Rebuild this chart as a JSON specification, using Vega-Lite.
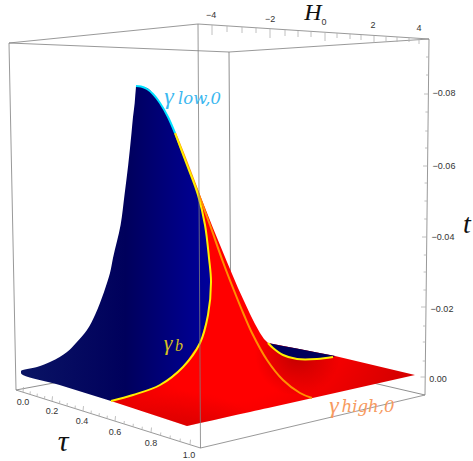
{"$schema":"https://vega.github.io/schema/vega-lite/v6.json","width":473,"height":461,"padding":0,"autosize":{"type":"none"},"background":"white","config":{"view":{"stroke":null},"axis":{"disable":true}},
"datasets":{
"boxBack":[{"x":229,"y":52,"x2":231,"y2":350},{"x":16,"y":390,"x2":231,"y2":350},{"x":425,"y":395,"x2":231,"y2":350}],
"boxFront":[{"x":9,"y":43,"x2":198,"y2":24},{"x":198,"y":24,"x2":429,"y2":39},{"x":9,"y":43,"x2":229,"y2":52},{"x":229,"y":52,"x2":429,"y2":39},{"x":9,"y":43,"x2":16,"y2":390},{"x":429,"y":39,"x2":425,"y2":395},{"x":16,"y":390,"x2":200.5,"y2":448},{"x":200.5,"y":448,"x2":425,"y2":395},{"x":198,"y":24,"x2":200.5,"y2":448}],
"ticks":[
{"x":212,"y":25,"x2":212,"y2":35},{"x":227,"y":26,"x2":227,"y2":32},{"x":242,"y":27,"x2":242,"y2":33},{"x":256,"y":28,"x2":256,"y2":33},{"x":270,"y":29,"x2":270,"y2":38},{"x":285,"y":30,"x2":285,"y2":36},{"x":298,"y":31,"x2":298,"y2":37},{"x":311,"y":32,"x2":311,"y2":37},{"x":325,"y":33,"x2":325,"y2":41},{"x":337,"y":33,"x2":337,"y2":38},{"x":350,"y":34,"x2":350,"y2":39},{"x":361,"y":35,"x2":361,"y2":40},{"x":374,"y":36,"x2":374,"y2":43},{"x":386,"y":37,"x2":386,"y2":41},{"x":397,"y":37,"x2":397,"y2":42},{"x":409,"y":38,"x2":409,"y2":42},{"x":419,"y":39,"x2":419,"y2":44},
{"x":428.8,"y":57,"x2":426,"y2":57},{"x":428.6,"y":75,"x2":426,"y2":75},{"x":428.4,"y":94,"x2":424,"y2":94},{"x":428.2,"y":112,"x2":425.4,"y2":112},{"x":428,"y":131,"x2":425.2,"y2":131},{"x":427.8,"y":148,"x2":425,"y2":148},{"x":427.6,"y":166,"x2":423,"y2":166},{"x":427.4,"y":183,"x2":424.6,"y2":183},{"x":427.2,"y":201,"x2":424.4,"y2":201},{"x":427,"y":219,"x2":424.2,"y2":219},{"x":426.8,"y":237,"x2":422,"y2":237},{"x":426.6,"y":255,"x2":423.8,"y2":255},{"x":426.4,"y":272,"x2":423.6,"y2":272},{"x":426.2,"y":290,"x2":423.4,"y2":290},{"x":426,"y":307,"x2":421,"y2":307},{"x":425.8,"y":326,"x2":423,"y2":326},{"x":425.6,"y":342,"x2":422.8,"y2":342},{"x":425.5,"y":361,"x2":422.7,"y2":361},{"x":425.4,"y":377,"x2":420.5,"y2":377},
{"x":23,"y":392.2,"x2":23.5,"y2":387},{"x":30,"y":394.4,"x2":30.3,"y2":391.4},{"x":37,"y":396.6,"x2":37.3,"y2":393.6},{"x":44.5,"y":399,"x2":44.8,"y2":396},{"x":52,"y":401.3,"x2":52.5,"y2":396.3},{"x":59.5,"y":403.7,"x2":59.8,"y2":400.7},{"x":67,"y":406,"x2":67.3,"y2":403},{"x":75,"y":408.6,"x2":75.3,"y2":405.6},{"x":83,"y":411.1,"x2":83.5,"y2":406.1},{"x":91,"y":413.6,"x2":91.3,"y2":410.6},{"x":99,"y":416.2,"x2":99.3,"y2":413.2},{"x":107,"y":418.7,"x2":107.3,"y2":415.7},{"x":115,"y":421.1,"x2":115.5,"y2":416.1},{"x":124,"y":424,"x2":124.3,"y2":421},{"x":133,"y":426.8,"x2":133.3,"y2":423.8},{"x":142,"y":429.7,"x2":142.3,"y2":426.7},{"x":151,"y":432.5,"x2":151.5,"y2":427.5},{"x":160.5,"y":435.5,"x2":160.8,"y2":432.5},{"x":170,"y":438.5,"x2":170.3,"y2":435.5},{"x":180,"y":441.6,"x2":180.3,"y2":438.6},{"x":190,"y":444.7,"x2":190.5,"y2":439.7}
],
"red":[{"x":111,"top":401,"bottom":401},{"x":175,"top":132,"bottom":422},{"x":187,"top":163,"bottom":426},{"x":200,"top":195,"bottom":423.1},{"x":213,"top":228,"bottom":420.2},{"x":227,"top":262,"bottom":417},{"x":238,"top":288,"bottom":414.6},{"x":244,"top":301,"bottom":413.2},{"x":250,"top":314,"bottom":411.9},{"x":255,"top":324,"bottom":410.8},{"x":260,"top":333,"bottom":409.7},{"x":264,"top":339,"bottom":408.8},{"x":268,"top":343,"bottom":407.9},{"x":335,"top":356,"bottom":392.9},{"x":415,"top":375,"bottom":375}],
"shadeFront":[{"x":111,"top":356,"bottom":401},{"x":187,"top":356,"bottom":426},{"x":320,"top":356,"bottom":396.3}],
"shadeCrease":[{"x":255,"top":324,"bottom":395},{"x":260,"top":333,"bottom":395},{"x":264,"top":339,"bottom":395},{"x":268,"top":343,"bottom":395},{"x":335,"top":356,"bottom":392},{"x":350,"top":359.6,"bottom":389}],
"blue":[{"y":86,"left":136,"right":137},{"y":88,"left":135.9,"right":147},{"y":95,"left":135.3,"right":153.5},{"y":103,"left":134.7,"right":160},{"y":117,"left":133,"right":168},{"y":133,"left":131.5,"right":175},{"y":165,"left":128.2,"right":187},{"y":195,"left":124.5,"right":198},{"y":225,"left":120.6,"right":205},{"y":258,"left":113,"right":209},{"y":273,"left":110,"right":210},{"y":282,"left":107.3,"right":211},{"y":303,"left":100,"right":210},{"y":315,"left":95,"right":208},{"y":330,"left":87,"right":203.5},{"y":343,"left":76,"right":200},{"y":352,"left":67,"right":193},{"y":362,"left":50,"right":186.5},{"y":367,"left":37,"right":183},{"y":371,"left":21,"right":178},{"y":373,"left":21,"right":175.3},{"y":385,"left":59.6,"right":160},{"y":395,"left":91.7,"right":133},{"y":401,"left":111,"right":111}],
"sliver":[{"x":268,"top":343,"bottom":343},{"x":273,"top":344,"bottom":348},{"x":283,"top":345.9,"bottom":355},{"x":297,"top":348.6,"bottom":359},{"x":317,"top":352.5,"bottom":359},{"x":333,"top":355.6,"bottom":357},{"x":335,"top":356,"bottom":356}],
"orange":[{"i":1,"x":175,"y":133},{"i":2,"x":187,"y":163},{"i":3,"x":198,"y":192},{"i":4,"x":210,"y":225},{"i":5,"x":223,"y":262},{"i":6,"x":233,"y":288},{"i":7,"x":244,"y":315},{"i":8,"x":252,"y":333},{"i":9,"x":267,"y":360},{"i":10,"x":283,"y":380},{"i":11,"x":300,"y":393},{"i":12,"x":312,"y":398}],
"gammaB":[{"i":1,"x":175,"y":133},{"i":2,"x":187,"y":165},{"i":3,"x":198,"y":195},{"i":4,"x":205,"y":225},{"i":5,"x":209,"y":258},{"i":6,"x":211,"y":282},{"i":7,"x":208,"y":315},{"i":8,"x":200,"y":343},{"i":9,"x":183,"y":367},{"i":10,"x":160,"y":385},{"i":11,"x":133,"y":395},{"i":12,"x":111,"y":401}],
"gammaB2":[{"i":1,"x":268,"y":343},{"i":2,"x":273,"y":348},{"i":3,"x":283,"y":355},{"i":4,"x":297,"y":359},{"i":5,"x":317,"y":359},{"i":6,"x":333,"y":357}],
"cyan":[{"i":1,"x":136,"y":86},{"i":2,"x":141,"y":86.5},{"i":3,"x":147,"y":89},{"i":4,"x":153,"y":94},{"i":5,"x":160,"y":103},{"i":6,"x":168,"y":117},{"i":7,"x":175,"y":133}],
"tickLabels":[{"t":"−4","x":211,"y":15},{"t":"−2","x":270,"y":19},{"t":"0","x":324,"y":22},{"t":"2","x":373,"y":25},{"t":"4","x":419,"y":28},{"t":"−0.08","x":444,"y":93},{"t":"−0.06","x":444,"y":166},{"t":"−0.04","x":443,"y":237},{"t":"−0.02","x":442,"y":309},{"t":"0.00","x":438,"y":379},{"t":"0.0","x":23,"y":402},{"t":"0.2","x":52,"y":411},{"t":"0.4","x":82,"y":421},{"t":"0.6","x":115,"y":432},{"t":"0.8","x":151,"y":443},{"t":"1.0","x":189,"y":455}]
},
"layer":[
{"data":{"name":"boxBack"},"mark":{"type":"rule","color":"#909090","strokeWidth":1},"encoding":{"x":{"field":"x","type":"quantitative","scale":{"domain":[0,473],"nice":false,"zero":false}},"y":{"field":"y","type":"quantitative","scale":{"domain":[461,0],"nice":false,"zero":false}},"x2":{"field":"x2"},"y2":{"field":"y2"}}},
{"data":{"name":"red"},"mark":{"type":"area","color":{"gradient":"radial","x1":0.39,"y1":0.57,"r1":0,"x2":0.39,"y2":0.57,"r2":0.6,"stops":[{"offset":0,"color":"#ff0000"},{"offset":0.55,"color":"#ff0000"},{"offset":1,"color":"#d80000"}]}},"encoding":{"x":{"field":"x","type":"quantitative"},"y":{"field":"top","type":"quantitative"},"y2":{"field":"bottom"}}},
{"data":{"name":"shadeFront"},"mark":{"type":"area","color":{"gradient":"radial","x1":0.364,"y1":1,"r1":0,"x2":0.364,"y2":1,"r2":0.5,"stops":[{"offset":0,"color":"rgba(170,0,0,0.8)"},{"offset":1,"color":"rgba(170,0,0,0)"}]}},"encoding":{"x":{"field":"x","type":"quantitative"},"y":{"field":"top","type":"quantitative"},"y2":{"field":"bottom"}}},
{"data":{"name":"shadeCrease"},"mark":{"type":"area","color":{"gradient":"radial","x1":0.45,"y1":0.44,"r1":0,"x2":0.45,"y2":0.44,"r2":0.45,"stops":[{"offset":0,"color":"rgba(150,0,0,0.6)"},{"offset":1,"color":"rgba(150,0,0,0)"}]}},"encoding":{"x":{"field":"x","type":"quantitative"},"y":{"field":"top","type":"quantitative"},"y2":{"field":"bottom"}}},
{"data":{"name":"blue"},"mark":{"type":"area","orient":"horizontal","interpolate":"monotone","color":{"gradient":"linear","x1":0,"y1":0,"x2":1,"y2":0,"stops":[{"offset":0,"color":"#0a1464"},{"offset":0.55,"color":"#00005c"},{"offset":1,"color":"#00009c"}]}},"encoding":{"y":{"field":"y","type":"quantitative"},"x":{"field":"left","type":"quantitative"},"x2":{"field":"right"}}},
{"data":{"name":"sliver"},"mark":{"type":"area","color":"#00005c"},"encoding":{"x":{"field":"x","type":"quantitative"},"y":{"field":"top","type":"quantitative"},"y2":{"field":"bottom"}}},
{"data":{"name":"orange"},"mark":{"type":"line","color":"#ff9000","strokeWidth":2,"interpolate":"catmull-rom"},"encoding":{"x":{"field":"x","type":"quantitative"},"y":{"field":"y","type":"quantitative"},"order":{"field":"i"}}},
{"data":{"name":"gammaB"},"mark":{"type":"line","color":"#ffee00","strokeWidth":2,"interpolate":"catmull-rom"},"encoding":{"x":{"field":"x","type":"quantitative"},"y":{"field":"y","type":"quantitative"},"order":{"field":"i"}}},
{"data":{"name":"gammaB2"},"mark":{"type":"line","color":"#ffee00","strokeWidth":2,"interpolate":"catmull-rom"},"encoding":{"x":{"field":"x","type":"quantitative"},"y":{"field":"y","type":"quantitative"},"order":{"field":"i"}}},
{"data":{"name":"cyan"},"mark":{"type":"line","color":"#00e0ff","strokeWidth":2,"interpolate":"catmull-rom"},"encoding":{"x":{"field":"x","type":"quantitative"},"y":{"field":"y","type":"quantitative"},"order":{"field":"i"}}},
{"data":{"name":"boxFront"},"mark":{"type":"rule","color":"#808080","strokeWidth":1,"opacity":0.8},"encoding":{"x":{"field":"x","type":"quantitative"},"y":{"field":"y","type":"quantitative"},"x2":{"field":"x2"},"y2":{"field":"y2"}}},
{"data":{"name":"ticks"},"mark":{"type":"rule","color":"#b0b0b0","strokeWidth":0.8},"encoding":{"x":{"field":"x","type":"quantitative"},"y":{"field":"y","type":"quantitative"},"x2":{"field":"x2"},"y2":{"field":"y2"}}},
{"data":{"name":"tickLabels"},"mark":{"type":"text","font":"Liberation Sans","fontSize":9,"color":"#333333"},"encoding":{"x":{"field":"x","type":"quantitative"},"y":{"field":"y","type":"quantitative"},"text":{"field":"t"}}},
{"data":{"values":[{"t":"H","x":313,"y":13}]},"mark":{"type":"text","font":"Liberation Serif","fontStyle":"italic","fontSize":24,"color":"#111111"},"encoding":{"x":{"field":"x","type":"quantitative"},"y":{"field":"y","type":"quantitative"},"text":{"field":"t"}}},
{"data":{"values":[{"t":"t","x":467,"y":225}]},"mark":{"type":"text","font":"Liberation Serif","fontStyle":"italic","fontSize":28,"color":"#111111"},"encoding":{"x":{"field":"x","type":"quantitative"},"y":{"field":"y","type":"quantitative"},"text":{"field":"t"}}},
{"data":{"values":[{"t":"τ","x":63,"y":442}]},"mark":{"type":"text","font":"Liberation Serif","fontStyle":"italic","fontSize":30,"color":"#111111"},"encoding":{"x":{"field":"x","type":"quantitative"},"y":{"field":"y","type":"quantitative"},"text":{"field":"t"}}},
{"data":{"values":[{"t":"γ","x":169,"y":97}]},"mark":{"type":"text","font":"Liberation Serif","fontStyle":"italic","fontSize":24,"color":"#3cb8f0"},"encoding":{"x":{"field":"x","type":"quantitative"},"y":{"field":"y","type":"quantitative"},"text":{"field":"t"}}},
{"data":{"values":[{"t":"low,0","x":199.5,"y":99}]},"mark":{"type":"text","font":"DejaVu Serif","fontStyle":"italic","fontSize":16.5,"color":"#3cb8f0"},"encoding":{"x":{"field":"x","type":"quantitative"},"y":{"field":"y","type":"quantitative"},"text":{"field":"t"}}},
{"data":{"values":[{"t":"γ","x":168,"y":343}]},"mark":{"type":"text","font":"Liberation Serif","fontStyle":"italic","fontSize":22,"color":"#d8c020"},"encoding":{"x":{"field":"x","type":"quantitative"},"y":{"field":"y","type":"quantitative"},"text":{"field":"t"}}},
{"data":{"values":[{"t":"b","x":179,"y":346}]},"mark":{"type":"text","font":"Liberation Serif","fontStyle":"italic","fontSize":16,"color":"#d8c020"},"encoding":{"x":{"field":"x","type":"quantitative"},"y":{"field":"y","type":"quantitative"},"text":{"field":"t"}}},
{"data":{"values":[{"t":"γ","x":334,"y":406}]},"mark":{"type":"text","font":"Liberation Serif","fontStyle":"italic","fontSize":24,"color":"#f79a60"},"encoding":{"x":{"field":"x","type":"quantitative"},"y":{"field":"y","type":"quantitative"},"text":{"field":"t"}}},
{"data":{"values":[{"t":"high,0","x":368,"y":407}]},"mark":{"type":"text","font":"DejaVu Serif","fontStyle":"italic","fontSize":16.5,"color":"#f79a60"},"encoding":{"x":{"field":"x","type":"quantitative"},"y":{"field":"y","type":"quantitative"},"text":{"field":"t"}}}
]}
